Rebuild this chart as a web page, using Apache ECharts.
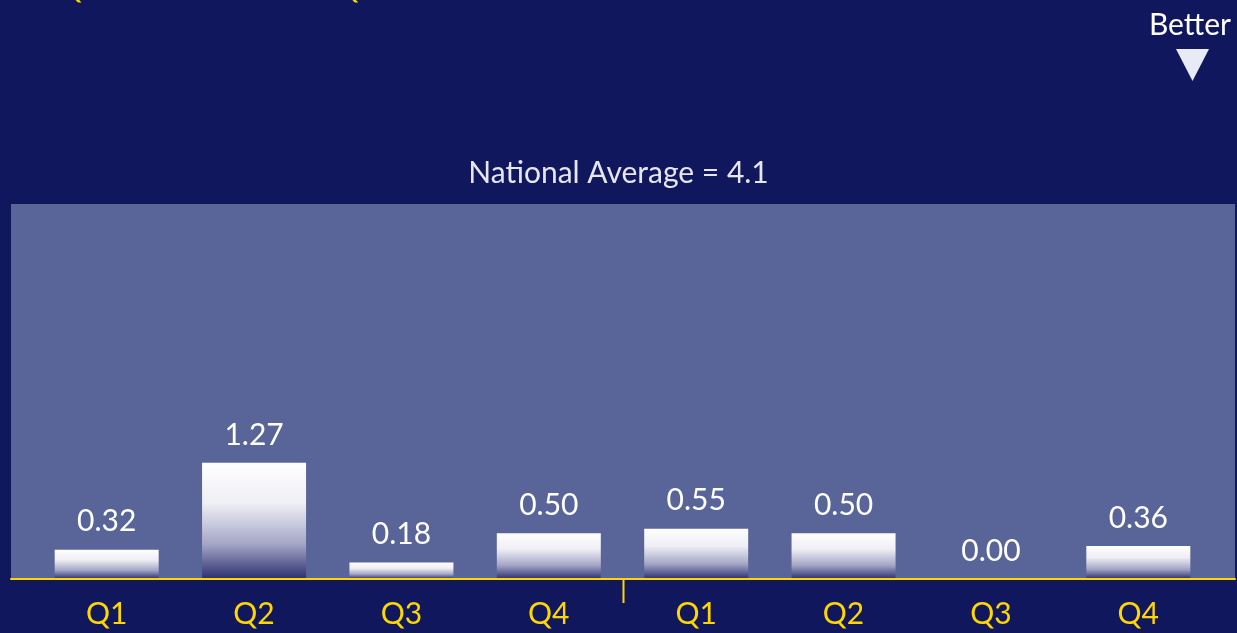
<!DOCTYPE html>
<html>
<head>
<meta charset="utf-8">
<script src="https://cdn.jsdelivr.net/npm/echarts@6/dist/echarts.min.js"></script>
<style>
html,body{margin:0;padding:0;background:#10175C;}
#chart{width:1237px;height:633px;}
</style>
</head>
<body>
<div id="chart"></div>
<script>
const categories = ['Q1','Q2','Q3','Q4','Q1','Q2','Q3','Q4'];
const values = [0.32, 1.27, 0.18, 0.50, 0.55, 0.50, 0.00, 0.36];
const nationalAverage = 4.1;
const titleText = '1st Quarter 2013 to 4th Quarter 2014';
const groupBreakAfter = 3; // separator between index 3 and 4

const chart = echarts.init(document.getElementById('chart'));
const FONT = 'Lato, "Open Sans", sans-serif';

chart.setOption({
  backgroundColor: '#10175C',
  animation: false,
  title: [
    { text: titleText, left: 4, top: -32, textStyle: { color: '#FFD700', fontFamily: FONT, fontSize: 30, fontWeight: 'normal' } },
    { text: 'Better', right: 1, top: 5, textStyle: { color: '#FFFFFF', fontFamily: FONT, fontSize: 30, fontWeight: 'normal' } },
    { text: 'National Average = ' + nationalAverage, left: 'center', top: 153, textStyle: { color: '#E6E6EE', fontFamily: FONT, fontSize: 30, fontWeight: 'normal' } }
  ],
  grid: [
    { left: 33, right: 25, top: 204, bottom: 54 },
    { left: 11, right: 2, top: 204, bottom: 54, show: true, backgroundColor: '#596598', borderWidth: 0, z: -1 }
  ],
  xAxis: [
    {
      type: 'category', gridIndex: 0, data: categories,
      axisLine: { show: false },
      axisTick: { show: false },
      axisLabel: { color: '#FFD700', fontFamily: FONT, fontSize: 30, margin: 20 }
    },
    {
      type: 'value', gridIndex: 1, min: 0, max: 1, z: 20,
      axisLine: { show: true, lineStyle: { color: '#FFD700', width: 2 } },
      axisTick: { show: false }, axisLabel: { show: false }, splitLine: { show: false }
    }
  ],
  yAxis: [
    { type: 'value', gridIndex: 0, min: 0, max: nationalAverage, show: false, splitLine: { show: false } },
    { type: 'value', gridIndex: 1, min: 0, max: 1, show: false, splitLine: { show: false } }
  ],
  series: [
    {
      type: 'bar', xAxisIndex: 0, yAxisIndex: 0, data: values,
      barWidth: 104,
      itemStyle: {
        color: new echarts.graphic.LinearGradient(0, 0, 0, 1, [
          { offset: 0, color: '#FFFFFF' },
          { offset: 0.35, color: '#EEEEF4' },
          { offset: 0.7, color: '#A4A6C6' },
          { offset: 1, color: '#2B2F6E' }
        ])
      },
      label: {
        show: true, position: 'top', distance: 13, color: '#FFFFFF', fontFamily: FONT, fontSize: 30,
        formatter: function (p) { return p.value.toFixed(2); }
      }
    }
  ]
});

// group separator tick and "Better" arrow, positioned through the library's scales
const pA = chart.convertToPixel({ xAxisIndex: 0, yAxisIndex: 0 }, [groupBreakAfter, 0]);
const pB = chart.convertToPixel({ xAxisIndex: 0, yAxisIndex: 0 }, [groupBreakAfter + 1, 0]);
const sepX = Math.round((pA[0] + pB[0]) / 2) + 0.5;
chart.setOption({
  graphic: [
    { type: 'line', shape: { x1: sepX, y1: pA[1], x2: sepX, y2: pA[1] + 24 }, style: { stroke: '#FFD700', lineWidth: 2 }, z: 10 },
    { type: 'polygon', shape: { points: [[1176, 49], [1209, 49], [1192.5, 81]] }, style: { fill: '#E8EAF6' } }
  ]
});
</script>
</body>
</html>
